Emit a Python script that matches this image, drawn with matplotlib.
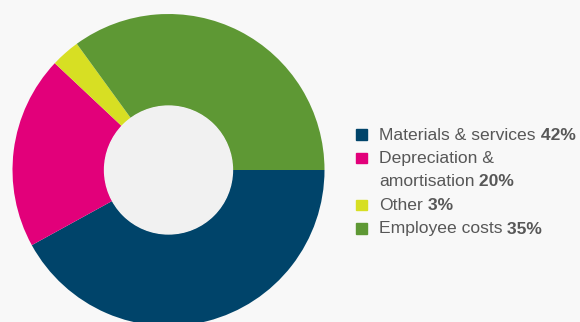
import matplotlib
matplotlib.use("Agg")
import matplotlib.pyplot as plt
from matplotlib.patches import Rectangle

# cost breakdown, clockwise from 3 o'clock
labels = ["Materials & services", "Depreciation &\namortisation", "Other", "Employee costs"]
shares = [42, 20, 3, 35]
colors = ["#00446a", "#e2007a", "#d7df23", "#5e9834"]

BG = "#f8f8f8"
HOLE = "#f1f1f1"
TEXT = "#575757"

plt.rcParams["font.family"] = ["Liberation Sans", "DejaVu Sans"]

W, H = 580, 322
fig = plt.figure(figsize=(W / 100, H / 100), dpi=100, facecolor=BG)

# donut axes: centre (168.5, 170) px from top-left, outer radius 156 px
cx, cy, r = 168.5, 170, 156
ax = fig.add_axes([(cx - r) / W, (H - cy - r) / H, 2 * r / W, 2 * r / H])
ax.set_facecolor(BG)
ax.pie(shares, colors=colors, startangle=0, counterclock=False, radius=1,
       wedgeprops=dict(width=0.59, linewidth=0))
ax.add_patch(plt.Circle((0, 0), 0.41, color=HOLE, zorder=5))
ax.set_xlim(-1, 1)
ax.set_ylim(-1, 1)
ax.set_aspect("equal")
ax.axis("off")

# legend drawn by hand: coloured square + label + bold share
x_sq, x_txt = 356, 379
base0, step = 139.5, 23.5
fs = 12.6
line = 0
for lab, val, col in zip(labels, shares, colors):
    y = base0 + step * line
    fig.patches.append(Rectangle((x_sq / W, (H - y) / H), 11 / W, 10.5 / H,
                                 transform=fig.transFigure, color=col))
    parts = lab.split("\n")
    for i, p in enumerate(parts):
        yy = (H - (y + step * i)) / H
        t = fig.text(x_txt / W, yy, p, fontsize=fs, color=TEXT, va="baseline")
    ax.annotate(f" {val}%", xy=(1, 0), xycoords=t, va="bottom", ha="left",
                fontsize=fs, fontweight="bold", color=TEXT,
                annotation_clip=False)
    line += len(parts)

fig.savefig("out.png", dpi=100, facecolor=BG)
